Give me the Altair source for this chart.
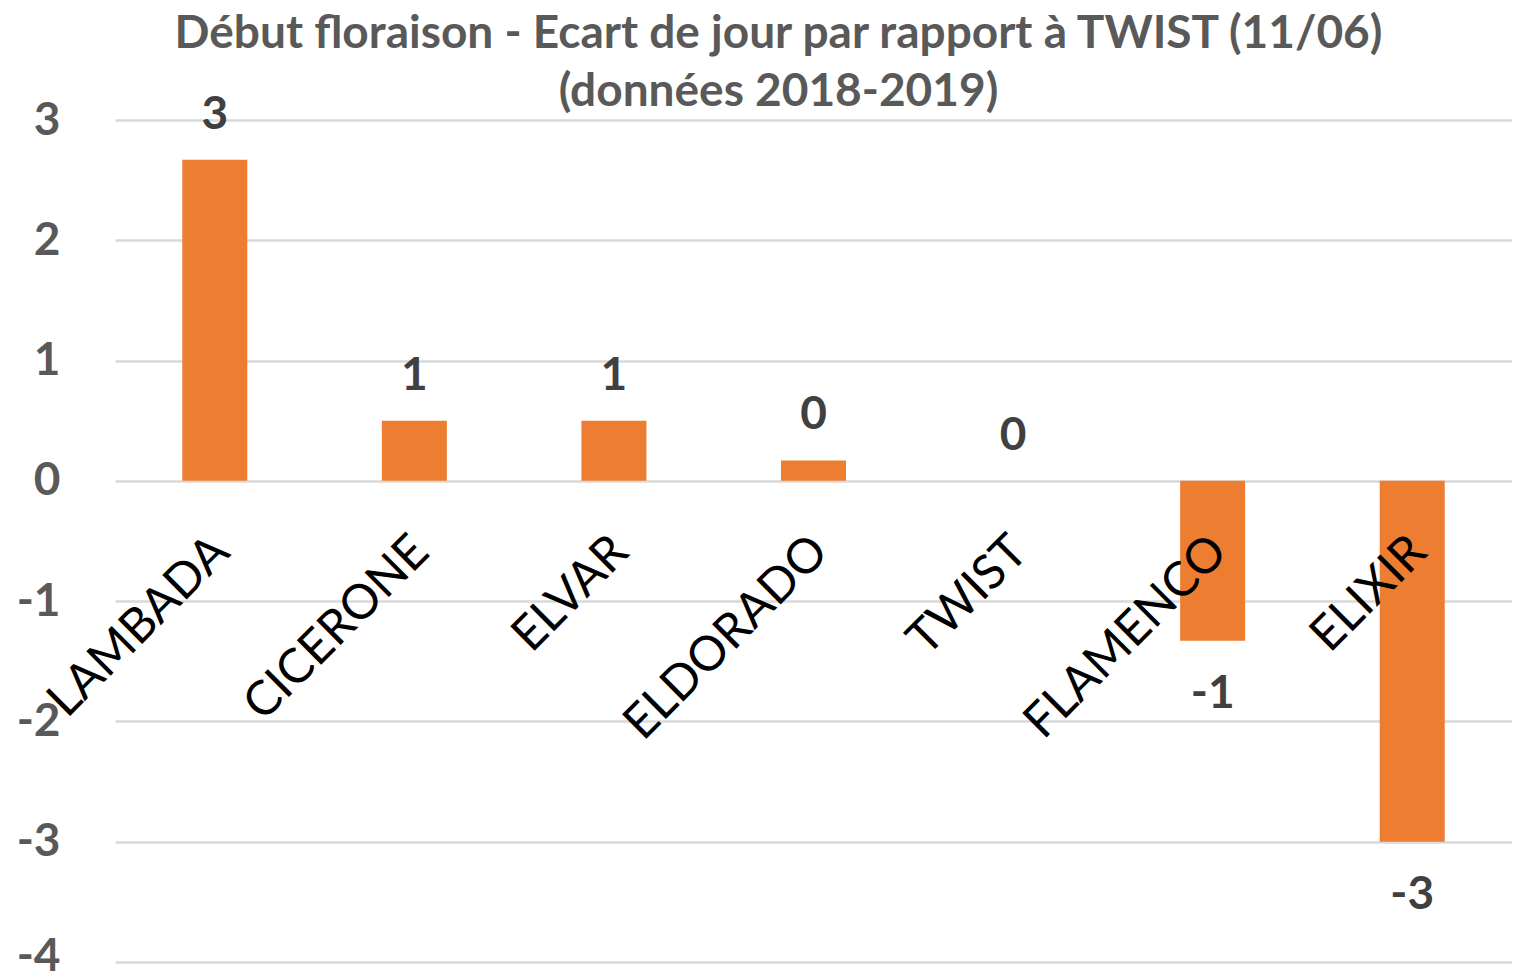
import altair as alt
import pandas as pd

varieties = ["LAMBADA", "CICERONE", "ELVAR", "ELDORADO", "TWIST", "FLAMENCO", "ELIXIR"]
ecart = [2.67, 0.5, 0.5, 0.17, 0.0, -1.33, -3.0]
y_ticks = [-4, -3, -2, -1, 0, 1, 2, 3]

df = pd.DataFrame({"variete": varieties, "ecart": ecart})

FONT = "Lato"

x_enc = alt.X(
    "variete:N",
    sort=varieties,
    title=None,
    scale=alt.Scale(paddingInner=0, paddingOuter=0),
    axis=alt.Axis(
        orient="bottom",
        offset=-482,
        domain=False,
        ticks=False,
        grid=False,
        labelAngle=-45,
        labelAlign="right",
        labelBaseline="middle",
        labelPadding=64,
        labelOffset=7,
        labelFont=FONT,
        labelFontSize=48,
        labelColor="#000000",
        labelOverlap=False,
        labelLimit=0,
        zindex=1,
    ),
)
y_enc = alt.Y(
    "ecart:Q",
    title=None,
    scale=alt.Scale(domain=[-4, 3], nice=False, zero=True),
    axis=alt.Axis(
        values=y_ticks,
        domain=False,
        ticks=False,
        grid=True,
        gridColor="#d9d9d9",
        gridWidth=2.5,
        labelFont=FONT,
        labelFontSize=46,
        labelFontWeight="bold",
        labelColor="#595959",
        labelPadding=55,
        labelOffset={"condition": {"test": "datum.value == -4", "value": -6}, "value": 0},
        labelExpr="'' + datum.value",
    ),
)

base = alt.Chart(df)

bars = base.mark_bar(color="#ED7D31", size=65).encode(x=x_enc, y=y_enc)

pos_labels = (
    base.transform_filter("datum.ecart >= 0")
    .transform_calculate(lbl="'' + round(datum.ecart)")
    .mark_text(font=FONT, fontSize=46, fontWeight="bold", color="#404040",
               baseline="bottom", dy=-21)
    .encode(x=alt.X("variete:N", sort=varieties), y="ecart:Q", text="lbl:N")
)
neg_labels = (
    base.transform_filter("datum.ecart < 0")
    .transform_calculate(lbl="'' + round(datum.ecart)")
    .mark_text(font=FONT, fontSize=46, fontWeight="bold", color="#404040",
               baseline="top", dy=31)
    .encode(x=alt.X("variete:N", sort=varieties), y="ecart:Q", text="lbl:N")
)

chart = (
    alt.layer(bars, pos_labels, neg_labels)
    .properties(
        width=1397,
        height=842,
        title=alt.TitleParams(
            text=["Début floraison - Ecart de jour par rapport à TWIST (11/06)",
                  "(données 2018-2019)"],
            font=FONT,
            fontSize=46,
            fontWeight="bold",
            color="#595959",
            anchor="middle",
            frame="group",
            lineHeight=58,
            offset=4,
            dx=-35,
            dy=28,
        ),
        autosize=alt.AutoSizeParams(type="none"),
        padding={"left": 107, "top": 112, "right": 0, "bottom": 9},
    )
    .configure_view(stroke=None)
)

chart.save("out.html", embed_options={"renderer": "svg", "actions": False})
